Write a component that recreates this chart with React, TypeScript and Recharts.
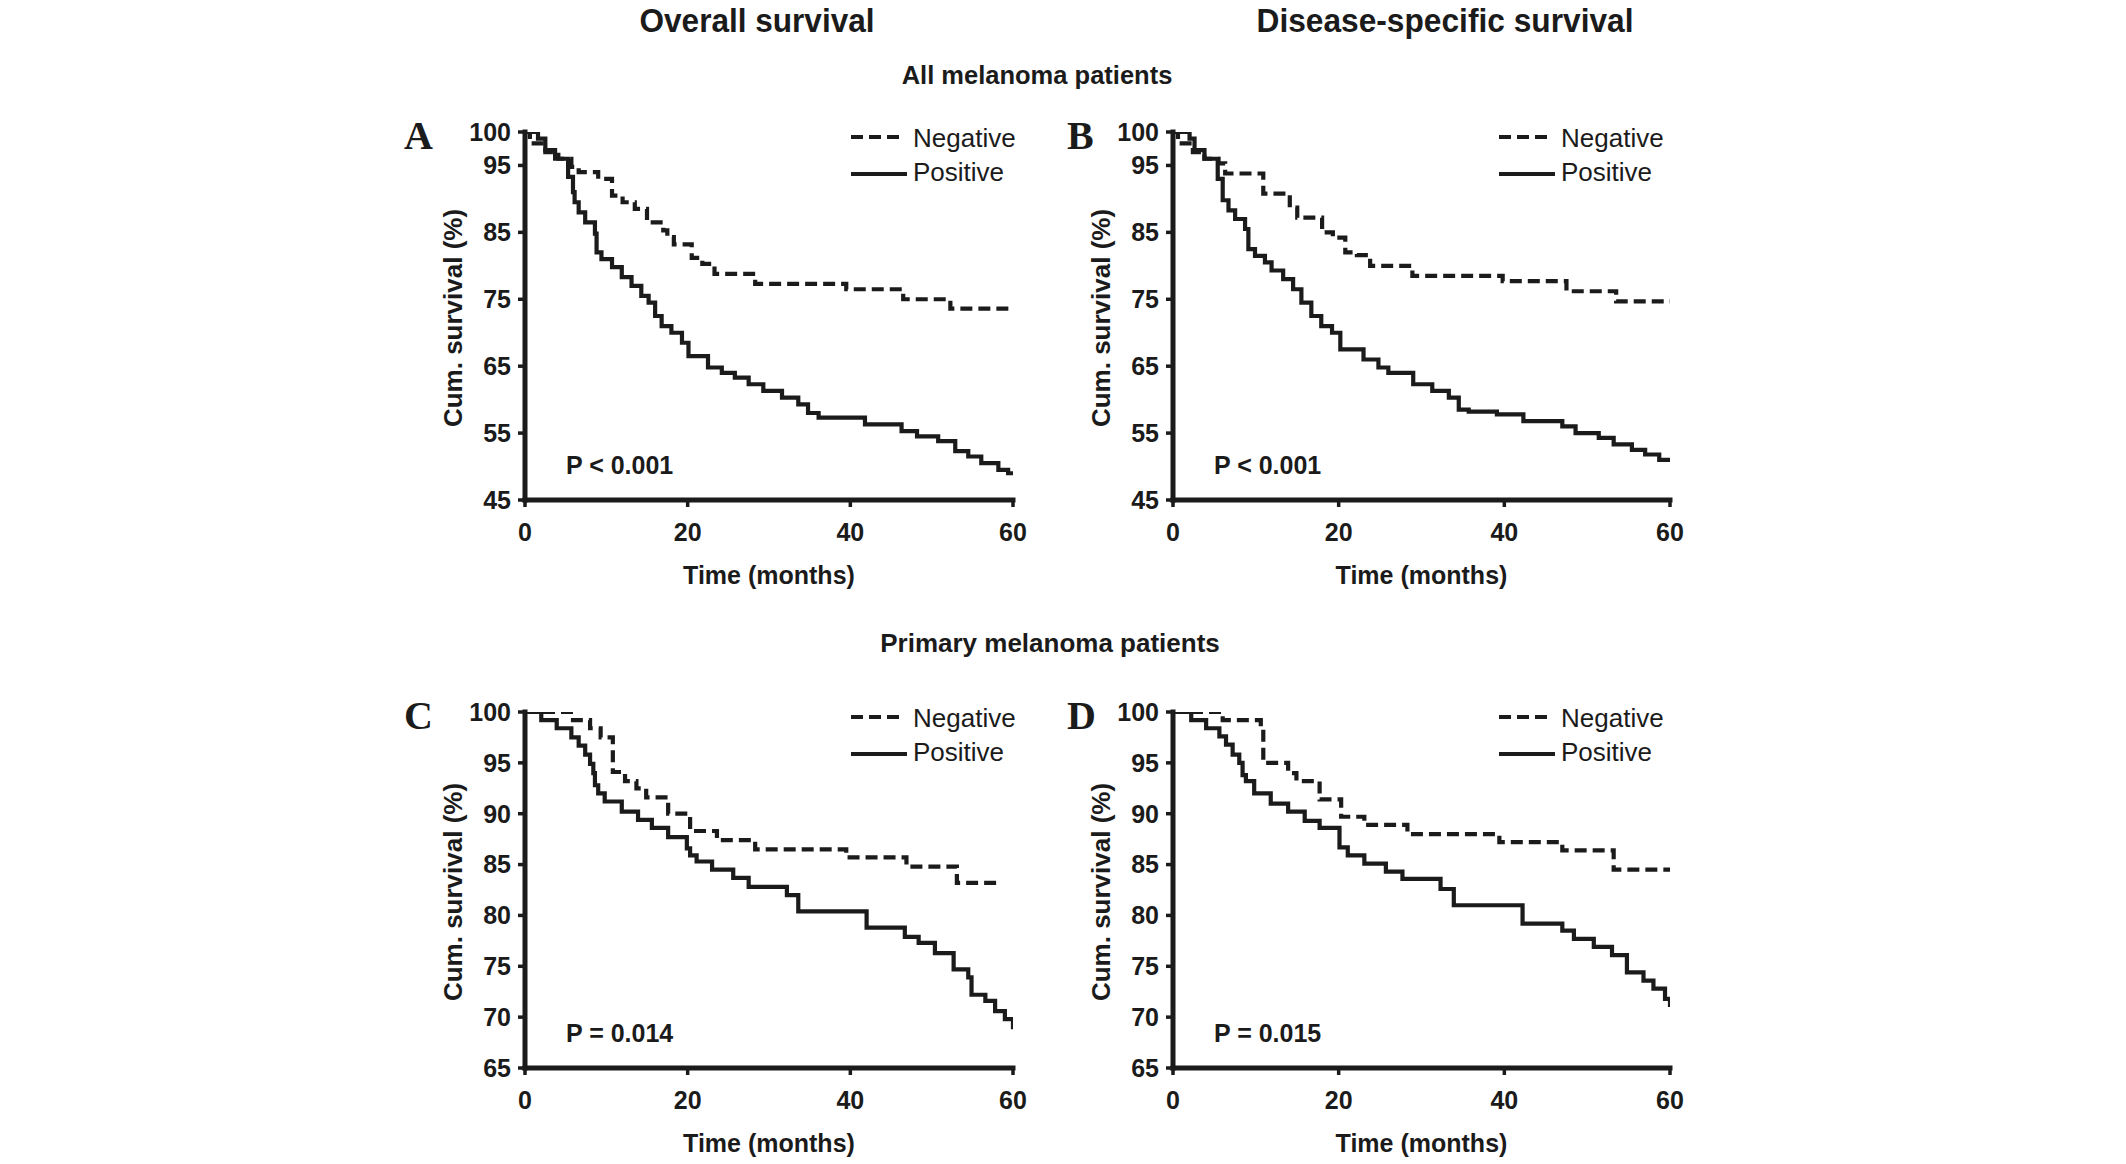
import React from 'react'
import { LineChart, Line, XAxis, YAxis } from 'recharts'

// x axis ticks (months) and y axis ticks (%)
const timeTicks = [0, 20, 40, 60]
const allTicks = [45, 55, 65, 75, 85, 95, 100]
const primaryTicks = [65, 70, 75, 80, 85, 90, 95, 100]

// Kaplan-Meier steps: [month, cum. survival %]
// A - overall survival, all melanoma patients
const osAllNegative: [number, number][] = [
	[0, 100], [0.6, 98.3], [2.5, 97], [4.1, 96], [5.7, 94.8], [6.6, 94], [9, 93], [10.7, 90.5],
	[12, 89.5], [13.5, 88.5], [15, 86.5], [17, 85.3], [17.5, 84.3], [18.3, 83.2], [20.5, 81.2],
	[21.8, 80.3], [23.3, 78.8], [28.3, 77.3], [39.5, 76.5], [46.5, 75], [52.3, 73.6], [60, 73.6],
]
const osAllPositive: [number, number][] = [
	[0, 100], [1.6, 99], [2.5, 97.3], [3.7, 96], [5.3, 93.3], [5.9, 91], [6.1, 89.5], [6.6, 88],
	[7.4, 86.5], [8.6, 84.8], [8.8, 82], [9.4, 81], [10.7, 79.8], [11.9, 78.3], [13.1, 77],
	[14.3, 75.5], [15.2, 74.5], [16, 72.5], [16.8, 71], [18, 70], [19.3, 68.5], [20.1, 66.5],
	[22.5, 64.8], [24.2, 64], [25.8, 63.3], [27.5, 62.3], [29.3, 61.3], [31.6, 60.3], [33.6, 59.3],
	[34.8, 58], [36.1, 57.3], [41.8, 56.3], [46.3, 55.3], [48.2, 54.5], [50.8, 53.8], [52.9, 52.3],
	[54.5, 51.5], [56.1, 50.5], [58.2, 49.5], [59.4, 49], [60, 49],
]

// B - disease-specific survival, all melanoma patients
const dssAllNegative: [number, number][] = [
	[0, 100], [0.6, 98.3], [2.4, 97], [3.8, 96], [5.5, 95.3], [6.3, 93.8], [10.9, 90.8], [14.1, 88.7],
	[15, 87.2], [18, 85], [19.3, 84.2], [20.8, 82], [22.2, 81.6], [23.8, 80], [28.9, 78.5],
	[39.8, 77.7], [47.5, 76.2], [53.5, 74.7], [60, 74.7],
]
const dssAllPositive: [number, number][] = [
	[0, 100], [2, 99], [2.6, 97.3], [3.8, 96], [5.4, 93], [6, 89.8], [6.7, 88.3], [7.5, 87],
	[8.7, 85.5], [9.1, 82.5], [9.9, 81.5], [11.1, 80.5], [11.9, 79.3], [13.3, 78], [14.5, 76.5],
	[15.5, 74.5], [16.7, 72.5], [17.9, 71], [19.2, 70], [20.2, 67.5], [23, 66], [24.8, 64.8],
	[26, 64], [29, 62.3], [31.3, 61.3], [33.3, 60.3], [34.5, 58.5], [35.7, 58.2], [39.1, 57.8],
	[42.3, 56.8], [47, 56], [48.6, 55], [51.4, 54.3], [53.2, 53.3], [55.4, 52.5], [57, 51.8],
	[58.7, 51], [60, 50.8],
]

// C - overall survival, primary melanoma patients
const osPrimaryNegative: [number, number][] = [
	[0, 100], [5.9, 99.2], [8, 98.4], [9.3, 97.5], [10.8, 94.1], [12.3, 93.2], [13.7, 92.5],
	[14.9, 91.6], [17.6, 90], [20.3, 88.3], [23.6, 87.4], [28.3, 86.5], [39.5, 85.7], [46.9, 84.8],
	[53.1, 83.2], [58.6, 83.2],
]
const osPrimaryPositive: [number, number][] = [
	[0, 100], [2, 99.2], [3.9, 98.4], [5.7, 97.5], [6.6, 96.7], [7.4, 95.8], [8, 94.9], [8.4, 94],
	[8.6, 92.8], [9, 92], [9.8, 91.2], [11.9, 90.2], [13.9, 89.4], [15.6, 88.6], [17.6, 87.7],
	[19.9, 86.6], [20.3, 85.9], [21.1, 85.3], [23, 84.5], [25.6, 83.7], [27.5, 82.8], [32.2, 82],
	[33.6, 80.4], [42, 78.8], [46.7, 77.9], [48.4, 77.3], [50.4, 76.3], [52.7, 74.7], [54.5, 73.9],
	[54.9, 72.2], [56.6, 71.6], [57.8, 70.6], [59, 69.8], [60, 68.8],
]

// D - disease-specific survival, primary melanoma patients
const dssPrimaryNegative: [number, number][] = [
	[0, 100], [6, 99.2], [10.6, 98.3], [10.9, 95], [13.9, 94], [14.9, 93.2], [17.7, 91.4],
	[20.3, 89.7], [23.1, 88.9], [28.3, 88], [39.4, 87.2], [47, 86.4], [53.2, 84.5], [60, 84.5],
]
const dssPrimaryPositive: [number, number][] = [
	[0, 100], [2.2, 99.2], [4, 98.4], [5.6, 97.6], [6.4, 96.8], [7.2, 95.8], [8, 95], [8.4, 93.8],
	[8.8, 93.2], [9.8, 92], [11.8, 91], [13.9, 90.2], [15.9, 89.3], [17.7, 88.6], [20.1, 86.7],
	[21.1, 85.9], [23.1, 85.1], [25.7, 84.3], [27.7, 83.6], [32.3, 82.6], [33.9, 81], [42.2, 79.2],
	[47, 78.5], [48.4, 77.7], [50.8, 76.9], [53, 76.1], [54.8, 74.4], [56.8, 73.6], [58, 72.8],
	[59.4, 71.8], [60, 71],
]

const pValues = ['P < 0.001', 'P < 0.001', 'P = 0.014', 'P = 0.015']

const FONT = '"Liberation Sans", Arial, Helvetica, sans-serif'
const SERIF = '"Liberation Serif", "Times New Roman", serif'
const INK = '#1b1b1b'
const DASH = '12 6'
const CURVE = 4.2

type Box = { x: number; y: number; w: number; h: number }

const toRows = (pts: [number, number][]) => pts.map(([t, s]) => ({ t, s }))

// plot area rectangles (pixels) of the four panels
const boxes: Box[] = [
	{ x: 525, y: 132, w: 488, h: 368 },
	{ x: 1173, y: 132, w: 497, h: 368 },
	{ x: 525, y: 712, w: 488, h: 356 },
	{ x: 1173, y: 712, w: 497, h: 356 },
]

const tickStyle = { fill: INK, fontSize: 25, fontWeight: 700, fontFamily: FONT }

function Panel({ box, domain, ticks, negative, positive }: {
	box: Box
	domain: [number, number]
	ticks: number[]
	negative: [number, number][]
	positive: [number, number][]
}) {
	const top = 24
	const right = 40
	const yw = 80
	const xh = 80
	return (
		<div style={{ position: 'absolute', left: box.x - yw, top: box.y - top }}>
			<LineChart
				width={yw + box.w + right}
				height={top + box.h + xh}
				margin={{ top, right, bottom: 0, left: 0 }}
			>
				<XAxis
					type="number"
					dataKey="t"
					domain={[0, 60]}
					ticks={timeTicks}
					interval={0}
					allowDataOverflow
					height={xh}
					tickSize={7}
					tickMargin={16}
					axisLine={{ stroke: INK, strokeWidth: 5, strokeLinecap: 'square' }}
					tickLine={{ stroke: INK, strokeWidth: 3.5 }}
					tick={tickStyle}
				/>
				<YAxis
					type="number"
					domain={domain}
					ticks={ticks}
					interval={0}
					allowDataOverflow
					width={yw}
					tickSize={7}
					tickMargin={7}
					axisLine={{ stroke: INK, strokeWidth: 5, strokeLinecap: 'square' }}
					tickLine={{ stroke: INK, strokeWidth: 3.5 }}
					tick={tickStyle}
				/>
				<Line
					data={toRows(negative)}
					dataKey="s"
					type="stepAfter"
					stroke={INK}
					strokeWidth={CURVE}
					strokeDasharray={DASH}
					dot={false}
					activeDot={false}
					isAnimationActive={false}
				/>
				<Line
					data={toRows(positive)}
					dataKey="s"
					type="stepAfter"
					stroke={INK}
					strokeWidth={CURVE}
					dot={false}
					activeDot={false}
					isAnimationActive={false}
				/>
			</LineChart>
		</div>
	)
}

// panel letter, legend, p value, axis titles
function Notes({ box, letter, lx, ly, p }: { box: Box; letter: string; lx: number; ly: number; p: string }) {
	const lgX = box.x + 326
	const txX = box.x + 388
	return (
		<g>
			<text x={lx} y={ly} fontFamily={SERIF} fontWeight={700} fontSize={40} fill={INK}>{letter}</text>
			<line x1={lgX} x2={lgX + 51} y1={box.y + 5} y2={box.y + 5} stroke={INK} strokeWidth={CURVE} strokeDasharray={DASH} />
			<text x={txX} y={box.y + 15} fontFamily={FONT} fontSize={26} fill={INK}>Negative</text>
			<line x1={lgX} x2={lgX + 56} y1={box.y + 42} y2={box.y + 42} stroke={INK} strokeWidth={CURVE} />
			<text x={txX} y={box.y + 49} fontFamily={FONT} fontSize={26} fill={INK}>Positive</text>
			<text x={box.x + 41} y={box.y + box.h - 26} fontFamily={FONT} fontWeight={700} fontSize={25} fill={INK}>{p}</text>
			<text
				transform={`translate(${box.x - 63},${box.y + box.h / 2 + 2}) rotate(-90)`}
				textAnchor="middle"
				fontFamily={FONT}
				fontWeight={700}
				fontSize={26}
				fill={INK}
			>
				Cum. survival (%)
			</text>
			<text x={box.x + box.w / 2} y={box.y + box.h + 84} textAnchor="middle" fontFamily={FONT} fontWeight={700} fontSize={25} fill={INK}>
				Time (months)
			</text>
		</g>
	)
}

export default function App() {
	return (
		<div style={{ position: 'absolute', left: 0, top: 0, width: 2126, height: 1164, background: '#fff' }}>
			<Panel box={boxes[0]} domain={[45, 100]} ticks={allTicks} negative={osAllNegative} positive={osAllPositive} />
			<Panel box={boxes[1]} domain={[45, 100]} ticks={allTicks} negative={dssAllNegative} positive={dssAllPositive} />
			<Panel box={boxes[2]} domain={[65, 100]} ticks={primaryTicks} negative={osPrimaryNegative} positive={osPrimaryPositive} />
			<Panel box={boxes[3]} domain={[65, 100]} ticks={primaryTicks} negative={dssPrimaryNegative} positive={dssPrimaryPositive} />
			<svg width={2126} height={1164} style={{ position: 'absolute', left: 0, top: 0, pointerEvents: 'none' }}>
				<text x={757} y={32} textAnchor="middle" textLength={235} lengthAdjust="spacingAndGlyphs" fontFamily={FONT} fontWeight={700} fontSize={33} fill={INK}>
					Overall survival
				</text>
				<text x={1445} y={32} textAnchor="middle" textLength={377} lengthAdjust="spacingAndGlyphs" fontFamily={FONT} fontWeight={700} fontSize={33} fill={INK}>
					Disease-specific survival
				</text>
				<text x={1037} y={84} textAnchor="middle" fontFamily={FONT} fontWeight={700} fontSize={25.5} fill={INK}>
					All melanoma patients
				</text>
				<text x={1050} y={652} textAnchor="middle" fontFamily={FONT} fontWeight={700} fontSize={26} fill={INK}>
					Primary melanoma patients
				</text>
				<Notes box={boxes[0]} letter="A" lx={404} ly={149} p={pValues[0]} />
				<Notes box={boxes[1]} letter="B" lx={1067} ly={149} p={pValues[1]} />
				<Notes box={boxes[2]} letter="C" lx={404} ly={729} p={pValues[2]} />
				<Notes box={boxes[3]} letter="D" lx={1067} ly={729} p={pValues[3]} />
			</svg>
		</div>
	)
}
